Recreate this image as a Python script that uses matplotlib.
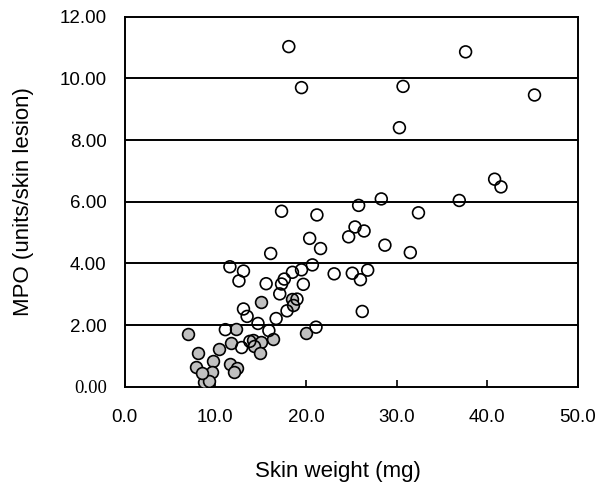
import matplotlib
matplotlib.use("Agg")
import matplotlib.pyplot as plt

# skin weight (mg) vs MPO (units/skin lesion)
open_x = [18.1, 37.6, 19.5, 30.7, 45.2, 30.3, 40.8, 41.5, 36.9, 28.3,
          25.8, 21.2, 32.4, 17.3, 25.4, 26.4, 24.7, 28.7, 31.5, 20.4,
          21.6, 16.1, 23.1, 25.1, 26.8, 26.0, 20.7, 19.5, 18.5, 17.6,
          17.3, 19.7, 17.1, 11.6, 13.1, 12.6, 15.6, 19.0, 17.9, 13.1,
          13.5, 16.7, 14.7, 15.9, 21.1, 11.1, 12.9, 13.8, 26.2]
open_y = [11.03, 10.86, 9.70, 9.74, 9.46, 8.40, 6.73, 6.48, 6.04, 6.09,
          5.88, 5.57, 5.64, 5.69, 5.18, 5.05, 4.86, 4.59, 4.35, 4.81,
          4.48, 4.32, 3.66, 3.68, 3.78, 3.47, 3.95, 3.79, 3.71, 3.49,
          3.33, 3.32, 3.01, 3.89, 3.75, 3.43, 3.34, 2.84, 2.46, 2.52,
          2.28, 2.21, 2.05, 1.82, 1.93, 1.85, 1.27, 1.47, 2.44]

filled_x = [7.0, 12.3, 8.1, 10.4, 11.7, 9.7, 7.9, 9.6, 11.6, 12.4,
            12.1, 8.8, 9.3, 14.2, 15.0, 14.3, 14.9, 16.4, 20.0, 15.0,
            18.4, 18.6, 8.5]
filled_y = [1.70, 1.86, 1.08, 1.22, 1.42, 0.83, 0.63, 0.49, 0.75, 0.62,
            0.48, 0.16, 0.19, 1.50, 1.44, 1.31, 1.08, 1.55, 1.74, 2.75,
            2.85, 2.64, 0.44]

x_ticks = [0, 10, 20, 30, 40, 50]
y_ticks = [0, 2, 4, 6, 8, 10, 12]

plt.rcParams["font.family"] = ["Liberation Sans", "DejaVu Sans"]

fig = plt.figure(figsize=(5.99, 4.87), dpi=100)
ax = fig.add_axes([0.2082, 0.206, 0.7568, 0.7597])

ax.scatter(filled_x, filled_y, s=72, facecolor="#c0c0c0", edgecolor="black",
           linewidth=1.2, zorder=3)
ax.scatter(open_x, open_y, s=72, facecolor="none", edgecolor="black",
           linewidth=1.2, zorder=4)

ax.set_xlim(0, 50)
ax.set_ylim(0, 12)
ax.set_xticks(x_ticks)
ax.set_xticklabels([f"{v:.1f}" for v in x_ticks])
ax.set_yticks(y_ticks)
ax.set_yticklabels([f"{v:.2f}" for v in y_ticks])
# the bottom label is set in a serif face in the original
zero_lbl = ax.yaxis.get_ticklabels()[0]
zero_lbl.set_fontfamily("Liberation Serif")
zero_lbl.set_fontsize(14.5)

ax.tick_params(axis="x", direction="in", length=5, width=1.2, pad=16,
               labelsize=13.5)
ax.tick_params(axis="y", length=0, pad=13, labelsize=13.5)

for y in y_ticks[1:-1]:
    ax.axhline(y, color="black", linewidth=1.4, zorder=1)
for side in ax.spines.values():
    side.set_linewidth(1.4)

ax.set_xlabel("Skin weight (mg)", fontsize=16)
ax.set_ylabel("MPO (units/skin lesion)", fontsize=16)
ax.xaxis.set_label_coords(0.47, -0.2)
ax.yaxis.set_label_coords(-0.2, 0.5)

fig.savefig("out.png", dpi=100)
